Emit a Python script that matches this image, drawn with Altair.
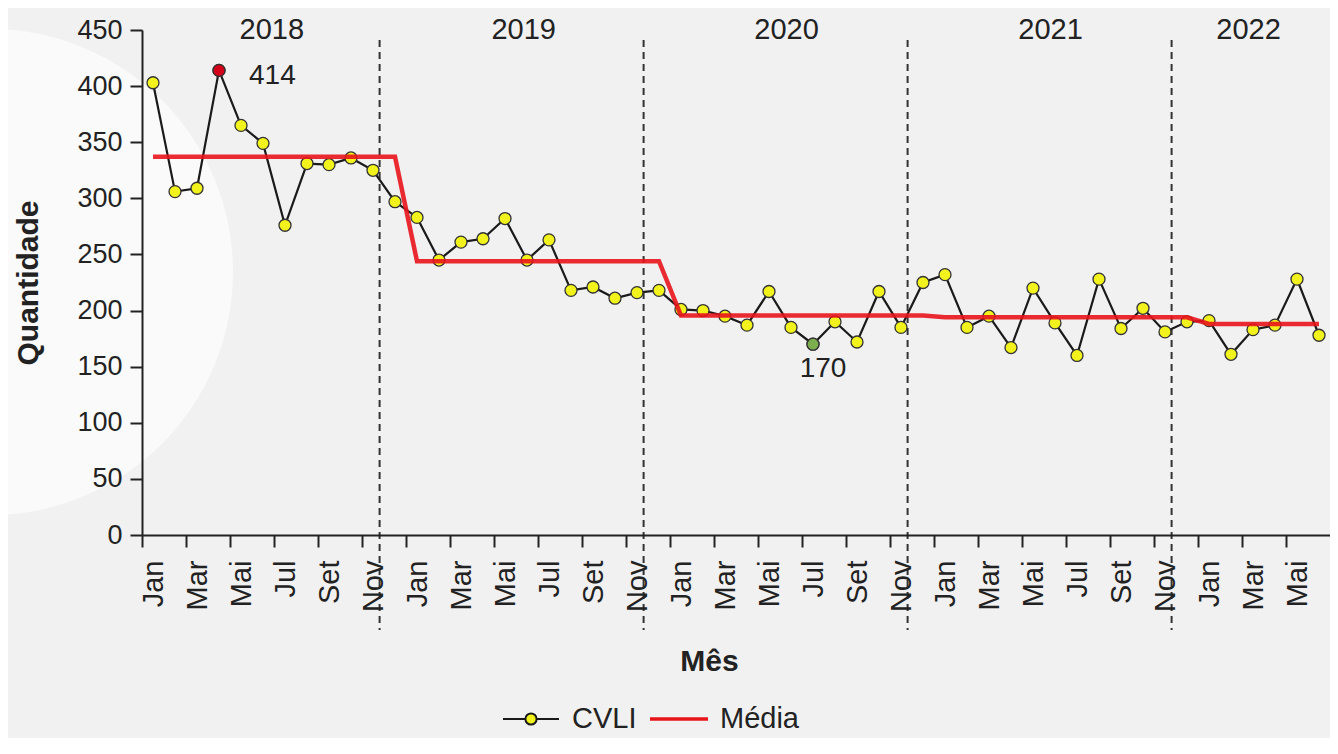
import altair as alt
import pandas as pd

# ---------------- data ----------------
meses = ["Jan", "Fev", "Mar", "Abr", "Mai", "Jun", "Jul", "Ago", "Set", "Out", "Nov", "Dez"]
anos = [2018, 2019, 2020, 2021, 2022]
cvli = [403, 306, 309, 414, 365, 349, 276, 331, 330, 336, 325, 297,
        283, 245, 261, 264, 282, 245, 263, 218, 221, 211, 216, 218,
        201, 200, 195, 187, 217, 185, 170, 190, 172, 217, 185, 225,
        232, 185, 195, 167, 220, 189, 160, 228, 184, 202, 181, 190,
        191, 161, 183, 187, 228, 178]
media_anual = [337, 244, 195.5, 194, 188]
pos_rotulo_ano = [5.4, 16.85, 28.8, 40.8, 49.8]
pos_divisao = [10.3, 22.3, 34.3, 46.3]
destaques_idx = [3, 30]
destaques_tipo = ["max", "min"]
series = ["CVLI", "Média"]

# ---------------- layout ----------------
W, H = 1188, 505
band = W / 54.0

idx = list(range(len(cvli)))
df = pd.DataFrame({"idx": idx, "valor": cvli})
df_media = pd.DataFrame({"idx": idx, "valor": [media_anual[i // 12] for i in idx]})
df_dest = pd.DataFrame({"idx": destaques_idx,
                        "valor": [cvli[i] for i in destaques_idx],
                        "tipo": destaques_tipo})
df_dest["rotulo"] = df_dest["valor"].astype(str)
df_anos = pd.DataFrame({"idx": pos_rotulo_ano, "ano": [str(a) for a in anos]})
df_div = pd.DataFrame({"idx": pos_divisao})
df_leg = pd.DataFrame({"idx": [0, 0], "valor": [cvli[0], cvli[0]], "serie": series})

xscale = alt.Scale(domain=[-0.5, 53.5], nice=False, zero=False)
yscale = alt.Scale(domain=[0, 450], nice=False)

TXT = "#222222"
label_expr = "datum.value % 2 == 0 ? " + str(meses) + "[datum.value % 12] : ''"

x_axis = alt.Axis(values=idx, labelExpr=label_expr, labelAngle=270, labelAlign="right",
                  labelBaseline="middle", labelOverlap=False, labelFlush=False,
                  labelFontSize=29, labelColor=TXT, labelPadding=13,
                  tickOffset=-band / 2, labelOffset=band / 2,
                  tickSize=12, tickWidth=2, tickColor=TXT, domainColor=TXT, domainWidth=2,
                  grid=False, zindex=1, title="Mês", titleFontSize=30, titleFontWeight="bold",
                  titleColor=TXT, titleX=567, titleY=126, titleBaseline="middle",
                  titleAlign="center")
y_axis = alt.Axis(values=list(range(0, 451, 50)), tickSize=12, tickWidth=2, tickColor=TXT,
                  domainColor=TXT, domainWidth=2, labelFontSize=27, labelColor=TXT,
                  labelPadding=8, grid=False, zindex=1, title="Quantidade", titleFontSize=30,
                  titleFontWeight="bold", titleColor=TXT, titleAngle=270, titleX=-114,
                  titleY=H / 2, titleAlign="center", titleBaseline="middle")

X = alt.X("idx:Q", scale=xscale)
Y = alt.Y("valor:Q", scale=yscale)

circulo = alt.Chart(df_anos.head(1)).mark_point(
    filled=True, fill="#fafafa", opacity=1, strokeWidth=0, size=236196
).encode(x=alt.value(-152), y=alt.value(242))

divisoes = alt.Chart(df_div).mark_rule(color="#333333", strokeWidth=2, strokeDash=[7, 5]).encode(
    x=X, y=alt.value(10), y2=alt.value(600))

linha_cvli = alt.Chart(df).mark_line(color="#1a1a1a", strokeWidth=2.2).encode(
    x=alt.X("idx:Q", scale=xscale, axis=x_axis),
    y=alt.Y("valor:Q", scale=yscale, axis=y_axis))

pontos = alt.Chart(df).mark_point(filled=True, size=144, opacity=1, stroke="#333333",
                                  strokeWidth=1.3, fill="#f2f21c").encode(x=X, y=Y)

destaques = alt.Chart(df_dest).mark_point(filled=True, size=144, opacity=1, stroke="#333333",
                                          strokeWidth=1.3).encode(
    x=X, y=Y,
    fill=alt.when(alt.datum.tipo == "max").then(alt.value("#d4001a")).otherwise(alt.value("#7cae50")))

media = alt.Chart(df_media).mark_line(color="#e8141c", strokeWidth=4.5, opacity=0.9).encode(x=X, y=Y)

rot_max = alt.Chart(df_dest).transform_filter(alt.datum.tipo == "max").mark_text(
    fontSize=28, color=TXT, align="left", baseline="middle", dx=30, dy=6).encode(x=X, y=Y, text="rotulo:N")
rot_min = alt.Chart(df_dest).transform_filter(alt.datum.tipo == "min").mark_text(
    fontSize=28, color=TXT, align="center", baseline="middle", dx=10, dy=25).encode(x=X, y=Y, text="rotulo:N")

rot_anos = alt.Chart(df_anos).mark_text(fontSize=29, color=TXT, baseline="middle").encode(
    x=X, y=alt.value(0), text="ano:N")

path_cvli = "M-1,0H-0.2M0.2,0H1M-0.2,0A0.2,0.2 0 1 1 0.2,0A0.2,0.2 0 1 1 -0.2,0Z"
path_media = "M-1,-0.03H1V0.03H-1Z"

leg_props = dict(title=None, orient="none", legendX=360, legendY=660, direction="horizontal",
                 symbolSize=3136, symbolStrokeWidth=2, symbolOpacity=1, labelFontSize=29,
                 labelColor=TXT, labelOffset=12, columnPadding=10, padding=0)

legenda = alt.Chart(df_leg).mark_point(filled=False, fill="#f2f21c", opacity=0).encode(
    x=X, y=Y,
    color=alt.Color("serie:N", scale=alt.Scale(domain=series, range=["#1a1a1a", "#e8141c"]),
                    legend=alt.Legend(**leg_props)),
    shape=alt.Shape("serie:N", scale=alt.Scale(domain=series, range=[path_cvli, path_media]),
                    legend=alt.Legend(**leg_props)))

chart = alt.layer(
    circulo, divisoes, linha_cvli, pontos, destaques, media, rot_max, rot_min, rot_anos, legenda
).properties(
    width=W, height=H,
    padding={"left": 134, "top": 22, "right": 0, "bottom": 203},
    autosize=alt.AutoSizeParams(type="none"),
).configure(
    background="#f1f1f1", font="Liberation Sans"
).configure_view(stroke=None)

chart.save("out.html", embed_options={"renderer": "svg", "actions": False})
